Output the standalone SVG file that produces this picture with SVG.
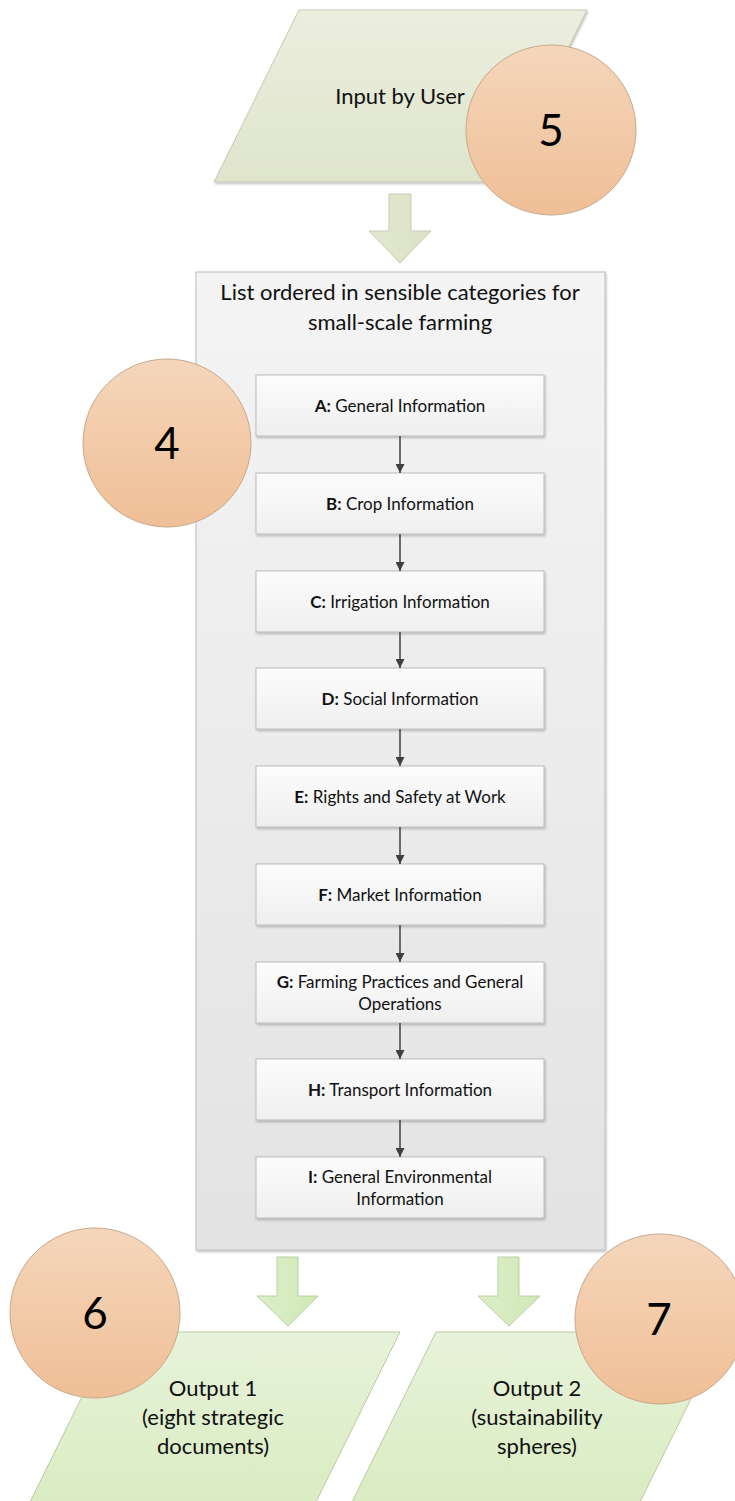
<svg xmlns="http://www.w3.org/2000/svg" width="735" height="1501" viewBox="0 0 735 1501">
<defs>
<linearGradient id="gIn" x1="0" y1="0" x2="0" y2="1"><stop offset="0" stop-color="#ebeedf"/><stop offset="1" stop-color="#dfe5cb"/></linearGradient>
<linearGradient id="gOut" x1="0" y1="0" x2="0" y2="1"><stop offset="0" stop-color="#e7f3da"/><stop offset="1" stop-color="#d9ecc2"/></linearGradient>
<linearGradient id="gCirc" x1="0" y1="0" x2="0" y2="1"><stop offset="0" stop-color="#f5d6bb"/><stop offset="1" stop-color="#efbf96"/></linearGradient>
<linearGradient id="gCont" x1="0" y1="0" x2="0" y2="1"><stop offset="0" stop-color="#f4f4f4"/><stop offset="1" stop-color="#e3e3e3"/></linearGradient>
<linearGradient id="gBox" x1="0" y1="0" x2="0" y2="1"><stop offset="0" stop-color="#fcfcfc"/><stop offset="1" stop-color="#efefef"/></linearGradient>
<linearGradient id="gArrTop" x1="0" y1="0" x2="1" y2="0"><stop offset="0" stop-color="#e2e8cf"/><stop offset="1" stop-color="#dbe2c5"/></linearGradient>
<linearGradient id="gArrBot" x1="0" y1="0" x2="1" y2="0"><stop offset="0" stop-color="#dcefc8"/><stop offset="1" stop-color="#d0e8b6"/></linearGradient>
<filter id="sh" x="-10%" y="-10%" width="120%" height="130%"><feDropShadow dx="1" dy="1.5" stdDeviation="1" flood-color="#000" flood-opacity="0.25"/></filter>
<marker id="ah" viewBox="0 0 10 10" refX="10" refY="5" markerWidth="9" markerHeight="9" orient="auto" markerUnits="userSpaceOnUse"><path d="M0,0 L10,5 L0,10 z" fill="#404040"/></marker>
<style>
.t{font-family:"Lato","Liberation Sans",sans-serif;fill:#111;text-anchor:middle}
.big{font-size:22px}
.box{font-size:17px}
.num{font-family:"Lato","Liberation Sans",sans-serif;font-size:44px;fill:#000;text-anchor:middle}
.circ{fill:url(#gCirc);stroke:#c9a88a;stroke-width:1}
.ib{fill:url(#gBox);stroke:#bcbcbc;stroke-width:1;filter:url(#sh)}
.con{stroke:#404040;stroke-width:1.5;fill:none;marker-end:url(#ah)}
</style>
</defs>

<g id="input">
<polygon points="299,10 587,10 502,182 214,182" fill="url(#gIn)" stroke="#c5cbb3" stroke-width="1" filter="url(#sh)"/>
<text class="t big" x="400" y="104">Input by User</text>
</g>
<g id="circle5">
<circle class="circ" cx="551" cy="130" r="85"/>
<text class="num" x="551" y="146">5</text>
</g>

<g id="arrowTop">
<polygon points="389,194 411,194 411,231 431,231 400,263 369,231 389,231" fill="url(#gArrTop)" stroke="#c5cbb3" stroke-width="1"/>
</g>

<g id="container">
<rect x="196" y="272" width="409" height="978" fill="url(#gCont)" stroke="#bdbdbd" stroke-width="1" filter="url(#sh)"/>
<text class="t big" x="400" y="300">List ordered in sensible categories for</text>
<text class="t big" x="400" y="330">small-scale farming</text>
</g>

<g id="boxA"><rect class="ib" x="256" y="375" width="288" height="61"/><text class="t box" x="400" y="412"><tspan font-weight="bold">A:</tspan> General Information</text></g>
<g id="boxB"><rect class="ib" x="256" y="473" width="288" height="61"/><text class="t box" x="400" y="510"><tspan font-weight="bold">B:</tspan> Crop Information</text></g>
<g id="boxC"><rect class="ib" x="256" y="571" width="288" height="61"/><text class="t box" x="400" y="608"><tspan font-weight="bold">C:</tspan> Irrigation Information</text></g>
<g id="boxD"><rect class="ib" x="256" y="668" width="288" height="61"/><text class="t box" x="400" y="705"><tspan font-weight="bold">D:</tspan> Social Information</text></g>
<g id="boxE"><rect class="ib" x="256" y="766" width="288" height="61"/><text class="t box" x="400" y="803"><tspan font-weight="bold">E:</tspan> Rights and Safety at Work</text></g>
<g id="boxF"><rect class="ib" x="256" y="864" width="288" height="61"/><text class="t box" x="400" y="901"><tspan font-weight="bold">F:</tspan> Market Information</text></g>
<g id="boxG"><rect class="ib" x="256" y="962" width="288" height="61"/><text class="t box" x="400" y="988"><tspan font-weight="bold">G:</tspan> Farming Practices and General</text><text class="t box" x="400" y="1010">Operations</text></g>
<g id="boxH"><rect class="ib" x="256" y="1059" width="288" height="61"/><text class="t box" x="400" y="1096"><tspan font-weight="bold">H:</tspan> Transport Information</text></g>
<g id="boxI"><rect class="ib" x="256" y="1157" width="288" height="61"/><text class="t box" x="400" y="1183"><tspan font-weight="bold">I:</tspan> General Environmental</text><text class="t box" x="400" y="1205">Information</text></g>

<g id="connectors">
<line class="con" x1="400" y1="436" x2="400" y2="473"/>
<line class="con" x1="400" y1="534" x2="400" y2="571"/>
<line class="con" x1="400" y1="632" x2="400" y2="668"/>
<line class="con" x1="400" y1="729" x2="400" y2="766"/>
<line class="con" x1="400" y1="827" x2="400" y2="864"/>
<line class="con" x1="400" y1="925" x2="400" y2="962"/>
<line class="con" x1="400" y1="1023" x2="400" y2="1059"/>
<line class="con" x1="400" y1="1120" x2="400" y2="1157"/>
</g>

<g id="circle4">
<circle class="circ" cx="167" cy="443" r="84"/>
<text class="num" x="167" y="459">4</text>
</g>

<g id="arrowLeft">
<polygon points="277,1257 298,1257 298,1296 318,1296 288,1326 257,1296 277,1296" fill="url(#gArrBot)" stroke="#b9d0a2" stroke-width="1"/>
</g>
<g id="arrowRight">
<polygon points="498,1257 519,1257 519,1296 540,1296 509,1326 478,1296 498,1296" fill="url(#gArrBot)" stroke="#b9d0a2" stroke-width="1"/>
</g>

<g id="output1">
<polygon points="114,1332 400,1332 315,1504 29,1504" fill="url(#gOut)" stroke="#b8ca9f" stroke-width="1"/>
<text class="t big" x="213" y="1396">Output 1</text>
<text class="t big" x="213" y="1425">(eight strategic</text>
<text class="t big" x="213" y="1454">documents)</text>
</g>
<g id="output2">
<polygon points="436,1332 724,1332 639,1504 351,1504" fill="url(#gOut)" stroke="#b8ca9f" stroke-width="1"/>
<text class="t big" x="537" y="1396">Output 2</text>
<text class="t big" x="537" y="1425">(sustainability</text>
<text class="t big" x="537" y="1454">spheres)</text>
</g>

<g id="circle6">
<circle class="circ" cx="95" cy="1313" r="85"/>
<text class="num" x="95" y="1329">6</text>
</g>
<g id="circle7">
<circle class="circ" cx="660" cy="1319" r="85"/>
<text class="num" x="659" y="1335">7</text>
</g>
</svg>
